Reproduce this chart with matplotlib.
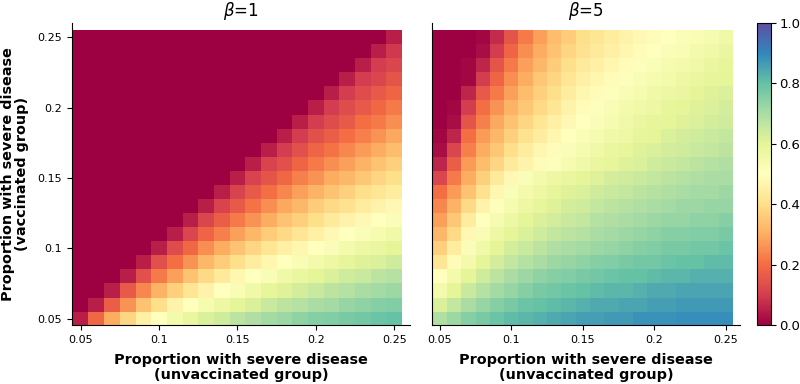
import numpy as np
import matplotlib
matplotlib.use("Agg")
import matplotlib.pyplot as plt

# grid of proportions (unvaccinated on x, vaccinated on y)
p_unvax = [0.05, 0.06, 0.07, 0.08, 0.09, 0.10, 0.11, 0.12, 0.13, 0.14, 0.15,
           0.16, 0.17, 0.18, 0.19, 0.20, 0.21, 0.22, 0.23, 0.24, 0.25]
p_vax = list(p_unvax)
xtick_vals = [0.05, 0.1, 0.15, 0.2, 0.25]
xtick_labels = ["0.05", "0.1", "0.15", "0.2", "0.25"]
titles = [r"$\beta$=1", r"$\beta$=5"]

# values in percent, rows from top (p_vax=0.25) to bottom (p_vax=0.05)
beta1 = [
    [0] * 20 + [5],
    [0] * 19 + [5, 9],
    [0] * 18 + [5, 10, 12],
    [0] * 17 + [5, 10, 12, 15],
    [0] * 16 + [5, 10, 13, 16, 18],
    [0] * 15 + [5, 10, 13, 16, 19, 22],
    [0] * 14 + [5, 10, 13, 16, 20, 22, 25],
    [0] * 13 + [5, 10, 14, 17, 20, 23, 26, 29],
    [0] * 12 + [5, 10, 14, 18, 21, 24, 27, 30, 33],
    [0] * 11 + [5, 11, 14, 18, 22, 25, 28, 31, 34, 37],
    [0] * 10 + [5, 11, 15, 19, 23, 26, 30, 32, 35, 38, 40],
    [0] * 9 + [5, 11, 16, 20, 24, 28, 31, 34, 37, 40, 42, 44],
    [0] * 8 + [5, 11, 16, 21, 25, 29, 32, 36, 39, 41, 44, 46, 48],
    [0] * 7 + [5, 12, 17, 22, 26, 30, 34, 37, 40, 43, 46, 48, 50, 52],
    [0] * 6 + [5, 12, 18, 23, 28, 32, 36, 39, 42, 45, 48, 50, 52, 54, 56],
    [0] * 5 + [5, 13, 19, 25, 30, 34, 38, 42, 45, 47, 50, 52, 55, 57, 58, 60],
    [0] * 4 + [5, 14, 20, 26, 32, 36, 40, 44, 47, 50, 53, 55, 57, 59, 61, 62, 64],
    [0] * 3 + [5, 14, 22, 28, 34, 39, 43, 47, 50, 53, 56, 58, 60, 62, 64, 65, 67, 68],
    [0, 0, 5, 16, 24, 31, 37, 42, 46, 50, 53, 56, 59, 61, 63, 65, 67, 68, 70, 71, 72],
    [0, 5, 17, 26, 34, 40, 46, 50, 54, 57, 60, 62, 65, 67, 68, 70, 71, 73, 74, 75, 76],
    [5, 19, 30, 38, 45, 50, 55, 58, 62, 64, 67, 69, 71, 72, 74, 75, 76, 77, 78, 79, 80],
]

beta5 = [
    [0, 0, 0, 1, 7, 15, 22, 28, 33, 36, 40, 42, 44, 46, 48, 49, 50, 52, 53, 54, 56],
    [0, 0, 0, 2, 10, 18, 25, 30, 34, 38, 41, 43, 45, 47, 49, 50, 52, 53, 55, 56, 58],
    [0, 0, 1, 6, 15, 22, 28, 32, 36, 40, 43, 45, 47, 49, 51, 52, 54, 55, 56, 58, 59],
    [0, 0, 1, 10, 18, 25, 30, 35, 38, 42, 45, 47, 49, 51, 53, 54, 55, 57, 58, 59, 60],
    [0, 0, 6, 16, 22, 28, 33, 37, 40, 44, 47, 49, 51, 53, 54, 56, 57, 58, 60, 61, 62],
    [0, 1, 10, 20, 26, 31, 35, 39, 42, 46, 49, 51, 53, 55, 56, 57, 59, 60, 61, 62, 63],
    [0, 2, 15, 23, 29, 34, 38, 42, 45, 48, 50, 52, 54, 56, 58, 59, 60, 61, 62, 63, 64],
    [1, 6, 20, 27, 32, 37, 41, 44, 47, 50, 52, 54, 56, 57, 59, 60, 62, 63, 64, 65, 66],
    [2, 12, 23, 30, 35, 40, 44, 47, 49, 52, 54, 56, 58, 59, 61, 62, 63, 64, 65, 66, 67],
    [6, 17, 27, 33, 38, 43, 46, 49, 51, 54, 56, 58, 59, 61, 62, 64, 65, 66, 67, 68, 69],
    [12, 22, 30, 37, 43, 48, 52, 55, 57, 58, 60, 61, 63, 64, 65, 66, 67, 68, 69, 70, 70],
    [20, 27, 34, 41, 47, 52, 55, 57, 59, 61, 62, 64, 65, 66, 67, 68, 69, 70, 71, 71, 72],
    [24, 31, 39, 46, 51, 54, 57, 59, 61, 63, 64, 66, 67, 68, 69, 70, 71, 72, 72, 73, 73],
    [28, 35, 44, 50, 54, 57, 60, 62, 63, 65, 66, 68, 69, 70, 71, 72, 73, 73, 74, 74, 75],
    [32, 39, 48, 53, 57, 60, 62, 64, 66, 67, 68, 70, 71, 72, 73, 74, 75, 75, 76, 76, 77],
    [37, 44, 52, 56, 60, 63, 65, 67, 69, 70, 71, 72, 73, 74, 75, 76, 77, 77, 78, 78, 79],
    [42, 49, 55, 60, 63, 66, 68, 70, 72, 73, 74, 75, 76, 77, 78, 78, 79, 80, 80, 81, 81],
    [50, 55, 60, 64, 67, 70, 72, 74, 75, 76, 77, 78, 79, 80, 80, 81, 82, 82, 83, 83, 83],
    [55, 60, 65, 68, 71, 73, 75, 77, 78, 79, 80, 81, 82, 82, 83, 84, 84, 85, 85, 85, 85],
    [62, 66, 70, 73, 75, 77, 79, 80, 81, 82, 83, 84, 84, 85, 85, 86, 86, 87, 87, 87, 87],
    [69, 72, 75, 77, 79, 81, 82, 83, 84, 85, 86, 86, 87, 87, 88, 88, 88, 89, 89, 89, 89],
]

fig = plt.figure(figsize=(8, 3.84), dpi=100)
ax1 = fig.add_axes([0.09, 0.1536, 0.4225, 0.7864])
ax2 = fig.add_axes([0.54, 0.1536, 0.385, 0.7864])
cax = fig.add_axes([0.946, 0.1536, 0.0175, 0.7864])

for ax, data, title in zip([ax1, ax2], [beta1, beta5], titles):
    z = np.flipud(np.array(data, dtype=float) / 100.0)
    mesh = ax.pcolormesh(p_unvax, p_vax, z, shading="nearest", cmap="Spectral",
                         vmin=0, vmax=1, rasterized=True)
    ax.set_xlim(0.0445, 0.26)
    ax.set_ylim(0.0455, 0.26)
    ax.set_xticks(xtick_vals)
    ax.set_xticklabels(xtick_labels, fontsize=8)
    ax.spines["top"].set_visible(False)
    ax.spines["right"].set_visible(False)
    ax.set_title(title, fontsize=12, pad=5)
    ax.set_xlabel("Proportion with severe disease\n(unvaccinated group)",
                  fontsize=10.4, fontweight="bold", linespacing=1.05, labelpad=6)

ax1.set_yticks(xtick_vals)
ax1.set_yticklabels(xtick_labels, fontsize=8)
ax1.set_ylabel("Proportion with severe disease\n(vaccinated group)",
               fontsize=10.4, fontweight="bold", linespacing=1.05, labelpad=6)
ax2.set_yticks([])

cb = fig.colorbar(mesh, cax=cax)
cb.set_ticks([0.0, 0.2, 0.4, 0.6, 0.8, 1.0])
cb.ax.tick_params(labelsize=9.5, pad=2.5)

fig.savefig("out.png", dpi=100)
